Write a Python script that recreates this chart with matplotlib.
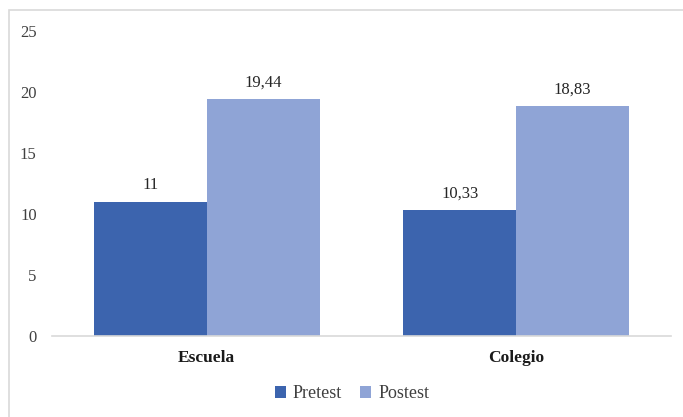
import matplotlib
matplotlib.use("Agg")
import matplotlib.pyplot as plt
from matplotlib.patches import Rectangle
import numpy as np

categories = ["Escuela", "Colegio"]
pretest = [11, 10.33]
postest = [19.44, 18.83]
series_names = ["Pretest", "Postest"]
value_labels_pre = ["11", "10,33"]
value_labels_post = ["19,44", "18,83"]
yticks = [0, 5, 10, 15, 20, 25]

plt.rcParams['font.family'] = ['Liberation Serif', 'DejaVu Serif']

W, H = 683, 417
fig = plt.figure(figsize=(W/100, H/100), dpi=100)
ax = fig.add_axes([52/W, 1-336/H, (671-52)/W, 305/H])

x = np.arange(len(categories))
bw = 0.365
c1, c2 = "#3C64AE", "#8FA4D6"
b1 = ax.bar(x - bw/2, pretest, bw, color=c1, label=series_names[0])
b2 = ax.bar(x + bw/2, postest, bw, color=c2, label=series_names[1])
for rect, lab in zip(b1, value_labels_pre):
    ax.annotate(lab, (rect.get_x()+rect.get_width()/2, rect.get_height()),
                xytext=(0, 6), textcoords="offset points", ha="center", va="bottom",
                fontsize=12, color="#262626")
for rect, lab in zip(b2, value_labels_post):
    ax.annotate(lab, (rect.get_x()+rect.get_width()/2, rect.get_height()),
                xytext=(0, 6), textcoords="offset points", ha="center", va="bottom",
                fontsize=12, color="#262626")

ax.set_xlim(-0.5, 1.5)
ax.set_ylim(0, 25)
ax.set_yticks(yticks)
ax.set_yticklabels([str(t) for t in yticks], fontsize=12, color="#404040")
ax.set_xticks(x)
ax.set_xticklabels(categories, fontsize=12.5, fontweight="bold", color="#1a1a1a")
ax.tick_params(axis="both", length=0)
ax.tick_params(axis="y", pad=11)
ax.tick_params(axis="x", pad=10)
for s in ["top", "right", "left"]:
    ax.spines[s].set_visible(False)
ax.spines["bottom"].set_color("#D9D9D9")
ax.spines["bottom"].set_linewidth(1.2)

leg = fig.legend(loc="center", bbox_to_anchor=(352/W, 1-394/H), ncol=2, frameon=False,
                 fontsize=13, handlelength=0.6, handleheight=0.6, handletextpad=0.4,
                 columnspacing=1.0)
for t in leg.get_texts():
    t.set_color("#404040")

fig.patches.append(Rectangle((9/W, -0.1), 1.2, 1 - 10/H + 0.1, transform=fig.transFigure,
                             fill=False, edgecolor="#D9D9D9", linewidth=1.2))

fig.savefig("out.png", dpi=100)
